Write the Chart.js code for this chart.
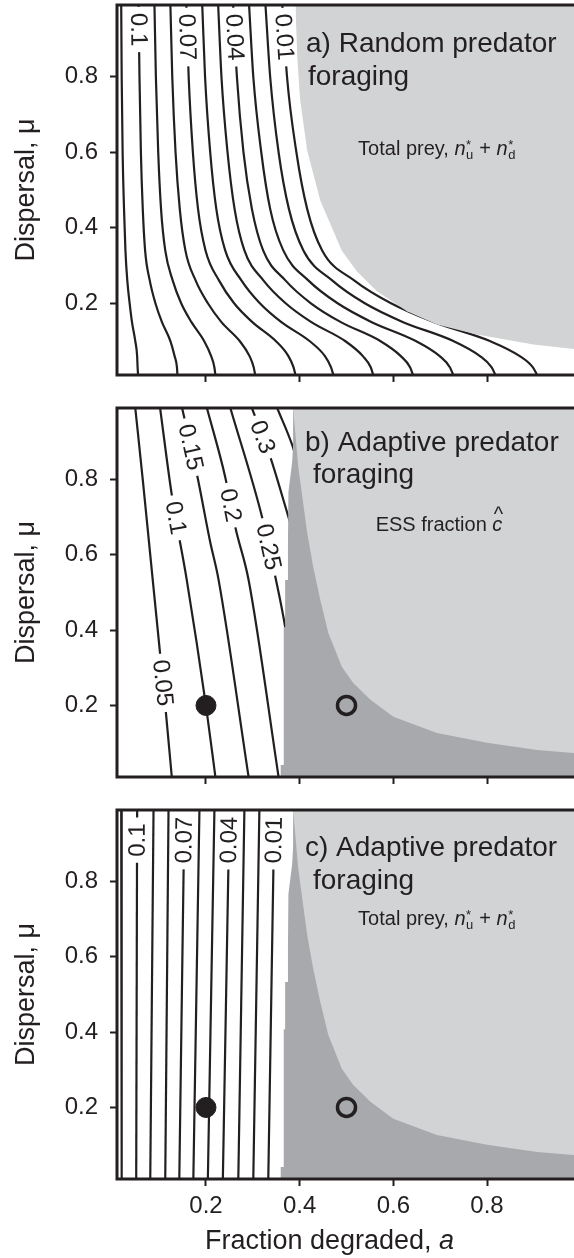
<!DOCTYPE html>
<html><head><meta charset="utf-8">
<script src="https://cdn.jsdelivr.net/npm/chart.js@4.4.0/dist/chart.umd.min.js"></script>
<style>
html,body{margin:0;padding:0;background:#fff;overflow:hidden;width:574px;height:1258px;}
#wrap{position:relative;width:574px;height:1258px;overflow:hidden;background:#fff;}
canvas{position:absolute;left:0;}
</style></head><body>
<div id="wrap">
<canvas id="ca" width="590" height="395" style="top:0px"></canvas>
<canvas id="cb" width="590" height="402" style="top:395px"></canvas>
<canvas id="cc" width="590" height="461" style="top:797px"></canvas>
</div>
<script>
// ---------- shared ticks ----------
const xTicks = [0.2, 0.4, 0.6, 0.8];
const yTicks = [0.2, 0.4, 0.6, 0.8];

// ---------- panel a: random foraging, total prey contours ----------
const muA = [0.99, 0.8, 0.6, 0.45, 0.34, 0.26, 0.2, 0.15, 0.1, 0.06, 0.03, 0.01];
const levelsA = ['0.11','0.1','0.09','0.08','0.07','0.06','0.05','0.04','0.03','0.02','0.01'];
const aA_011 = [.019,.020,.022,.025,.028,.032,.037,.042,.049,.053,.054,.055];
const aA_010 = [.056,.058,.061,.065,.070,.080,.092,.106,.124,.133,.138,.139];
const aA_009 = [.090,.093,.098,.104,.113,.129,.147,.169,.196,.211,.218,.220];
const aA_008 = [.124,.128,.135,.144,.156,.178,.204,.233,.272,.293,.302,.305];
const aA_007 = [.158,.163,.172,.183,.199,.228,.260,.299,.349,.376,.387,.391];
const aA_006 = [.192,.198,.209,.222,.241,.276,.315,.361,.421,.454,.467,.472];
const aA_005 = [.226,.233,.246,.261,.282,.323,.370,.425,.497,.535,.552,.557];
const aA_004 = [.258,.266,.280,.298,.322,.370,.424,.488,.572,.616,.636,.642];
const aA_003 = [.292,.301,.318,.337,.365,.419,.481,.554,.648,.699,.721,.728];
const aA_002 = [.327,.337,.355,.377,.408,.470,.539,.621,.728,.785,.810,.818];
const aA_001 = [.363,.373,.393,.416,.448,.517,.595,.687,.806,.870,.898,.907];
const contoursA = [aA_011,aA_010,aA_009,aA_008,aA_007,aA_006,aA_005,aA_004,aA_003,aA_002,aA_001];
const labelsA = [{level:'0.1',mu:0.925},{level:'0.07',mu:0.905},{level:'0.04',mu:0.905},{level:'0.01',mu:0.905}];
// light grey region boundary, panel a
const grayA_a  = [0.391,0.395,0.401,0.416,0.444,0.490,0.522,0.565,0.629,0.693,0.778,0.899,0.99];
const grayA_mu = [0.99, 0.85, 0.739,0.605,0.472,0.339,0.285,0.232,0.179,0.144,0.117,0.091,0.078];

// ---------- panel b: adaptive foraging, ESS fraction contours ----------
const levelsB = ['0.05','0.1','0.15','0.2','0.25','0.3','0.35'];
const b005_a = [.049,.065,.081,.097,.113,.127], b005_mu = [.99,.8,.6,.4,.2,.01];
const b010_a = [.102,.127,.159,.200,.220],      b010_mu = [.99,.759,.533,.199,.011];
const b015_a = [.149,.181,.209,.227,.291],      b015_mu = [.99,.812,.634,.533,.01];
const b020_a = [.202,.241,.263,.291,.355],      b020_mu = [.99,.807,.671,.533,.01];
const b025_a = [.252,.320,.348,.369,.378],      b025_mu = [.99,.699,.542,.409,.33];
const b030_a = [.298,.337,.376,.386],           b030_mu = [.99,.861,.701,.66];
const b035_a = [.352,.384,.392],                b035_mu = [.99,.892,.86];
const contoursB = [[b005_a,b005_mu],[b010_a,b010_mu],[b015_a,b015_mu],[b020_a,b020_mu],[b025_a,b025_mu],[b030_a,b030_mu],[b035_a,b035_mu]];
const labelsB = [{level:'0.05',mu:0.26},{level:'0.1',mu:0.698},{level:'0.15',mu:0.886},{level:'0.2',mu:0.732},{level:'0.25',mu:0.621},{level:'0.3',mu:0.913}];

// regions shared by adaptive panels b and c
const lightAd_a  = [0.386,0.397,0.416,0.429,0.444,0.461,0.490,0.514,0.551,0.600,0.693,0.800,0.907,0.99];
const lightAd_mu = [0.99, 0.834,0.659,0.568,0.481,0.393,0.303,0.260,0.215,0.170,0.127,0.101,0.082,0.073];
const darkAd_a  = [0.359,0.366,0.366,0.369,0.369,0.375,0.375,0.376,0.384,0.386,0.386,0.99];
const darkAd_mu = [0.042,0.042,0.408,0.408,0.533,0.533,0.634,0.767,0.847,0.892,0.99,0.99];
const filledPt = [0.2, 0.2];
const openPt = [0.5, 0.2];

// ---------- panel c: adaptive foraging, total prey contours ----------
const muC = [0.99, 0.01];
const levelsC = ['0.11','0.1','0.09','0.08','0.07','0.06','0.05','0.04','0.03','0.02','0.01'];
const cTop = [0.019,0.053,0.088,0.120,0.154,0.186,0.218,0.250,0.282,0.314,0.346];
const cBot = [0.020,0.051,0.081,0.113,0.143,0.173,0.204,0.236,0.269,0.301,0.333];
const labelsC = [{level:'0.1',mu:0.91},{level:'0.07',mu:0.91},{level:'0.04',mu:0.91},{level:'0.01',mu:0.91}];

// ---------- styling ----------
const FONT = '"Liberation Sans", Arial, Helvetica, sans-serif';
const INK = '#231f20', LIGHT = '#d1d3d4', DARK = '#a7a9ac';
const TICK_SIZE = 24, LABEL_SIZE = 24, TITLE_SIZE = 28, SUB_SIZE = 20, AXIS_SIZE = 27;

function pts(ax, mu) { return ax.map((a, i) => ({x: a, y: mu[i]})); }

function contourDs(label, data, smooth) {
  const d = {label, data, showLine:true, borderColor:INK, borderWidth:2.2, pointRadius:0,
          fill:false, order:3, tension:0};
  if (smooth) { d.cubicInterpolationMode = 'monotone'; d.tension = 0.4; }
  return d;
}
function regionDs(label, data, fill, color, order) {
  return {label, data, showLine:true, borderWidth:0, borderColor:color, backgroundColor:color,
          pointRadius:0, tension:0, fill, order};
}
function markerDs() {
  return [
    {label:'filled', data:[{x:filledPt[0], y:filledPt[1]}], showLine:false, pointRadius:10,
     pointBorderWidth:1, pointBackgroundColor:INK, pointBorderColor:INK, order:0},
    {label:'open', data:[{x:openPt[0], y:openPt[1]}], showLine:false, pointRadius:9,
     pointBorderWidth:3.5, pointBackgroundColor:'rgba(0,0,0,0)', pointBorderColor:INK, order:0}
  ];
}

function noPad(s) { s.paddingTop = 0; s.paddingBottom = 0; s.paddingLeft = 0; s.paddingRight = 0; }

function options(padTop, xAxisH, showX) {
  const tickFont = {family: FONT, size: TICK_SIZE};
  return {
    responsive:false, animation:false, devicePixelRatio:1, events:[],
    layout:{padding:{top:padTop, right:14, left:0, bottom:0}},
    plugins:{legend:{display:false}, tooltip:{enabled:false}},
    scales:{
      x:{type:'linear', min:0.01, max:0.99,
         afterFit: s => { s.height = xAxisH; noPad(s); },
         afterBuildTicks: s => { s.ticks = xTicks.map(v => ({value:v})); },
         ticks:{display:showX, padding:6, color:INK, font:tickFont, maxRotation:0, autoSkip:false,
                callback: v => Number(v).toFixed(1)},
         grid:{drawOnChartArea:false, drawTicks:true, tickLength:7, tickWidth:2, tickColor:INK},
         border:{display:false}},
      y:{type:'linear', min:0.01, max:0.99,
         afterFit: s => { s.width = 117; noPad(s); },
         afterBuildTicks: s => { s.ticks = yTicks.map(v => ({value:v})); },
         ticks:{padding:12, color:INK, font:tickFont, autoSkip:false,
                callback: v => Number(v).toFixed(1)},
         grid:{drawOnChartArea:false, drawTicks:true, tickLength:7, tickWidth:2, tickColor:INK},
         border:{display:false}}
    }
  };
}

const framePlugin = {
  id:'frame',
  afterDraw(chart) {
    const {ctx, chartArea:c} = chart;
    ctx.save();
    ctx.strokeStyle = INK; ctx.lineWidth = 3;
    ctx.strokeRect(c.left, c.top, c.right - c.left, c.bottom - c.top);
    ctx.fillStyle = INK;
    ctx.font = `${AXIS_SIZE}px ${FONT}`;
    ctx.textAlign = 'center'; ctx.textBaseline = 'middle';
    ctx.translate(27, (c.top + c.bottom) / 2);
    ctx.rotate(-Math.PI / 2);
    ctx.fillText('Dispersal, \u03bc', 0, 0);
    ctx.restore();
  }
};

function labelPlugin(specs, up) {
  return {
    id:'clabels',
    afterDatasetsDraw(chart) {
      const {ctx, chartArea:ca, scales:{x, y}} = chart;
      ctx.save();
      ctx.beginPath(); ctx.rect(ca.left, ca.top, ca.right - ca.left, ca.bottom - ca.top); ctx.clip();
      ctx.font = `${LABEL_SIZE}px ${FONT}`;
      ctx.textAlign = 'center'; ctx.textBaseline = 'middle';
      for (const s of specs) {
        const ds = chart.data.datasets.find(d => d.label === s.level);
        const p = ds.data;
        for (let i = 0; i < p.length - 1; i++) {
          const a = p[i], b = p[i + 1];
          if ((a.y - s.mu) * (b.y - s.mu) <= 0 && a.y !== b.y) {
            const t = (s.mu - a.y) / (b.y - a.y);
            const av = a.x + t * (b.x - a.x);
            const px = x.getPixelForValue(av), py = y.getPixelForValue(s.mu);
            const dx = x.getPixelForValue(b.x) - x.getPixelForValue(a.x);
            const dy = y.getPixelForValue(b.y) - y.getPixelForValue(a.y);
            let ang = Math.atan2(dy, dx);
            if (up ? Math.sin(ang) > 0 : Math.sin(ang) < 0) ang += Math.PI;
            const w = ctx.measureText(s.level).width;
            ctx.save();
            ctx.translate(px, py); ctx.rotate(ang);
            ctx.fillStyle = '#fff';
            ctx.fillRect(-w / 2 - 6, -LABEL_SIZE * 0.42, w + 12, LABEL_SIZE * 0.84);
            ctx.fillStyle = INK;
            ctx.fillText(s.level, 0, 1);
            ctx.restore();
            break;
          }
        }
      }
      ctx.restore();
    }
  };
}

function drawRuns(ctx, runs, cx, base) {
  let total = 0;
  const widths = runs.map(r => {
    if (r.stack) {
      ctx.font = `${r.size}px ${FONT}`;
      return Math.max(ctx.measureText(r.stack[0]).width, ctx.measureText(r.stack[1]).width) + 1;
    }
    ctx.font = `${r.italic ? 'italic ' : ''}${r.size}px ${FONT}`;
    return ctx.measureText(r.t).width;
  });
  widths.forEach(w => total += w);
  let xx = cx - total / 2;
  ctx.textBaseline = 'alphabetic'; ctx.textAlign = 'left';
  runs.forEach((r, i) => {
    if (r.stack) {
      ctx.font = `${r.size}px ${FONT}`;
      ctx.fillText(r.stack[0], xx + 0.5, base - 6);
      ctx.fillText(r.stack[1], xx + 0.5, base + 4);
    } else {
      ctx.font = `${r.italic ? 'italic ' : ''}${r.size}px ${FONT}`;
      ctx.fillText(r.t, xx, base);
      if (r.hat) {
        ctx.font = `${r.size}px ${FONT}`;
        ctx.textAlign = 'center';
        ctx.fillText('^', xx + widths[i] / 2 + 1, base - 10);
        ctx.textAlign = 'left';
      }
    }
    xx += widths[i];
  });
}

function preyRuns() {
  return [{t:'Total prey, ', size:SUB_SIZE}, {t:'n', italic:true, size:SUB_SIZE},
          {stack:['*','u'], size:13}, {t:' + ', size:SUB_SIZE},
          {t:'n', italic:true, size:SUB_SIZE}, {stack:['*','d'], size:13}];
}
function essRuns() {
  return [{t:'ESS fraction ', size:SUB_SIZE}, {t:'c', italic:true, hat:true, size:SUB_SIZE}];
}

function textPlugin(lines, runs, sub) {
  return {
    id:'annot',
    afterDatasetsDraw(chart) {
      const ctx = chart.ctx;
      ctx.save();
      ctx.fillStyle = INK;
      ctx.font = `${TITLE_SIZE}px ${FONT}`;
      ctx.textAlign = 'left'; ctx.textBaseline = 'middle';
      lines.forEach(l => ctx.fillText(l.t, l.x, l.y));
      drawRuns(ctx, runs, sub.x, sub.y);
      ctx.restore();
    }
  };
}

const xTitlePlugin = {
  id:'xtitle',
  afterDraw(chart) {
    const ctx = chart.ctx;
    ctx.save();
    ctx.fillStyle = INK;
    drawRuns(ctx, [{t:'Fraction degraded, ', size:AXIS_SIZE}, {t:'a', italic:true, size:AXIS_SIZE}], 329.5, 452);
    ctx.restore();
  }
};

// ---------- panel a ----------
new Chart(document.getElementById('ca'), {
  type:'line',
  data:{datasets:[
    regionDs('grey', pts(grayA_a, grayA_mu), 'end', LIGHT, 1),
    ...contoursA.map((arr, k) => contourDs(levelsA[k], pts(arr, muA), true))
  ]},
  options: options(5, 20, false),
  plugins:[labelPlugin(labelsA, false),
           textPlugin([{t:'a) Random predator', x:306, y:44}, {t:'foraging', x:308, y:77}], preyRuns(), {x:437, y:155}),
           framePlugin]
});

// ---------- panel b ----------
new Chart(document.getElementById('cb'), {
  type:'line',
  data:{datasets:[
    ...markerDs(),
    regionDs('light', pts(lightAd_a, lightAd_mu), 'end', LIGHT, 1),
    regionDs('dark', pts(darkAd_a, darkAd_mu), 'start', DARK, 2),
    ...contoursB.map((c, k) => contourDs(levelsB[k], pts(c[0], c[1]), true))
  ]},
  options: options(13, 20, false),
  plugins:[labelPlugin(labelsB, false),
           textPlugin([{t:'b) Adaptive predator', x:305, y:48}, {t:'foraging', x:313, y:80}], essRuns(), {x:439, y:136}),
           framePlugin]
});

// ---------- panel c ----------
new Chart(document.getElementById('cc'), {
  type:'line',
  data:{datasets:[
    ...markerDs(),
    regionDs('light', pts(lightAd_a, lightAd_mu), 'end', LIGHT, 1),
    regionDs('dark', pts(darkAd_a, darkAd_mu), 'start', DARK, 2),
    ...levelsC.map((lv, k) => contourDs(lv, pts([cTop[k], cBot[k]], muC), false))
  ]},
  options: options(13, 79, true),
  plugins:[labelPlugin(labelsC, true),
           textPlugin([{t:'c) Adaptive predator', x:305, y:51}, {t:'foraging', x:313, y:84}], preyRuns(), {x:437, y:128}),
           framePlugin, xTitlePlugin]
});
</script>
</body></html>
